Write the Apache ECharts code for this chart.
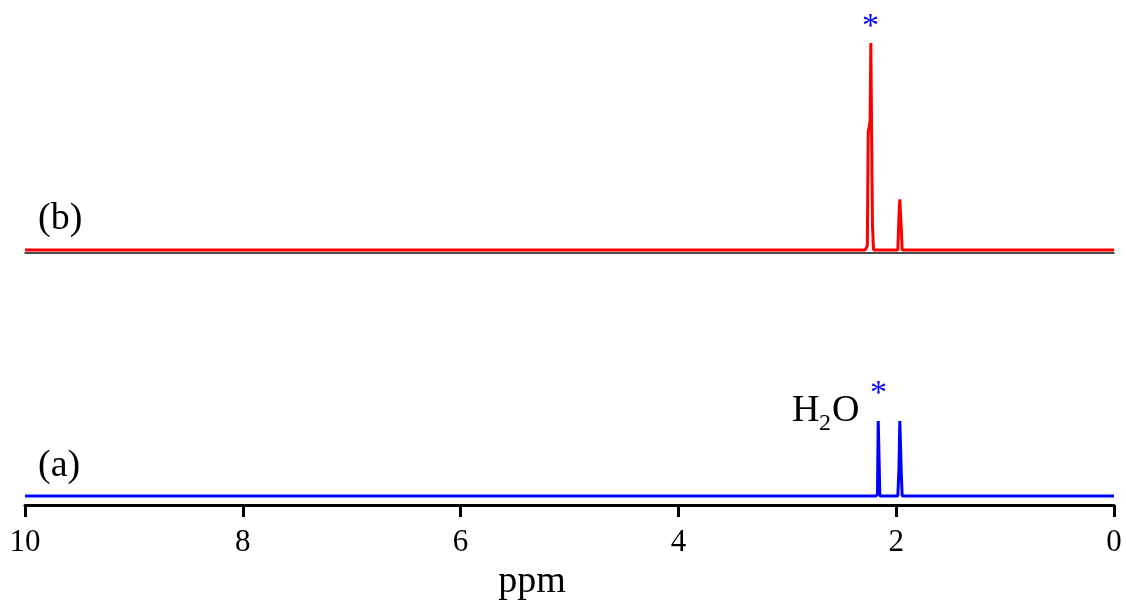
<!DOCTYPE html>
<html>
<head>
<meta charset="utf-8">
<script src="https://cdn.jsdelivr.net/npm/echarts@6/dist/echarts.min.js"></script>
<style>
  html, body { margin: 0; padding: 0; background: #fff; }
  #main { width: 1126px; height: 605px; }
</style>
</head>
<body>
<div id="main"></div>
<script>
// spectrum (a) - blue, bottom
const ppmA = [10, 2.185, 2.172, 2.165, 2.158, 2.150, 1.985, 1.975, 1.967, 1.960, 1.953, 1.945, 0];
const intA = [0, 0, 0.03, 1.0, 1.0, 0, 0, 0.35, 1.0, 1.0, 0.3, 0, 0];

// spectrum (b) - red, top
const ppmB = [10, 2.285, 2.265, 2.257, 2.250, 2.240, 2.233, 2.226, 2.218, 2.208, 1.985, 1.975, 1.967, 1.960, 1.953, 1.945, 0];
const intB = [0, 0, 0.02, 0.57, 0.59, 0.62, 1.0, 1.0, 0.12, 0, 0, 0.16, 0.245, 0.245, 0.1, 0, 0];

const xTicks = [10, 8, 6, 4, 2, 0];

const serif = 'Liberation Serif, Times New Roman, serif';

const chart = echarts.init(document.getElementById('main'));

const toPairs = (xs, ys) => xs.map((x, i) => [x, ys[i]]);

chart.setOption({
  backgroundColor: '#fff',
  animation: false,
  grid: [
    { left: 25, right: 12, top: 43, bottom: 605 - 252.5, containLabel: false, outerBoundsMode: 'none' },
    { left: 25, right: 12, top: 421, bottom: 100, containLabel: false, outerBoundsMode: 'none' }
  ],
  xAxis: [
    {
      gridIndex: 0, type: 'value', min: 0, max: 10, interval: 2, inverse: true,
      axisLine: { onZero: false, lineStyle: { color: '#111', width: 1.5 } },
      axisTick: { show: false }, axisLabel: { show: false }, splitLine: { show: false }
    },
    {
      gridIndex: 1, type: 'value', min: 0, max: 10, interval: 2, inverse: true,
      axisLine: { onZero: false, lineStyle: { color: '#000', width: 3 } },
      axisTick: { show: true, inside: false, length: 12, lineStyle: { color: '#000', width: 3 } },
      axisLabel: {
        margin: 22, fontSize: 31, color: '#000', fontFamily: serif,
        formatter: v => (xTicks.indexOf(v) >= 0 ? String(v) : '')
      },
      splitLine: { show: false },
      name: 'ppm', nameLocation: 'middle', nameGap: 58,
      nameTextStyle: { fontSize: 38, color: '#000', fontFamily: serif, padding: [0, 75, 0, 0] }
    }
  ],
  yAxis: [
    { gridIndex: 0, type: 'value', min: -0.012, max: 1, show: false },
    { gridIndex: 1, type: 'value', min: -0.12, max: 1, show: false }
  ],
  series: [
    {
      name: '(b)', type: 'line', xAxisIndex: 0, yAxisIndex: 0,
      data: toPairs(ppmB, intB), showSymbol: false,
      lineStyle: { color: '#ff0000', width: 3 }
    },
    {
      name: '(a)', type: 'line', xAxisIndex: 1, yAxisIndex: 1,
      data: toPairs(ppmA, intA), showSymbol: false,
      lineStyle: { color: '#0000ff', width: 3 }
    }
  ],
  graphic: [
    { type: 'text', left: 38, top: 200, style: { text: '(b)', font: '38px ' + serif, fill: '#000' } },
    { type: 'text', left: 38, top: 447, style: { text: '(a)', font: '38px ' + serif, fill: '#000' } },
    { type: 'text', left: 792, top: 392, style: { text: 'H', font: '38px ' + serif, fill: '#000' } },
    { type: 'text', left: 819, top: 412, style: { text: '2', font: '24px ' + serif, fill: '#000' } },
    { type: 'text', left: 832, top: 392, style: { text: 'O', font: '38px ' + serif, fill: '#000' } },
    { type: 'text', left: 870, top: 377, style: { text: '*', font: '34px ' + serif, fill: '#0000ff' } },
    { type: 'text', left: 862, top: 10, style: { text: '*', font: '34px ' + serif, fill: '#0000ff' } }
  ]
});
</script>
</body>
</html>
